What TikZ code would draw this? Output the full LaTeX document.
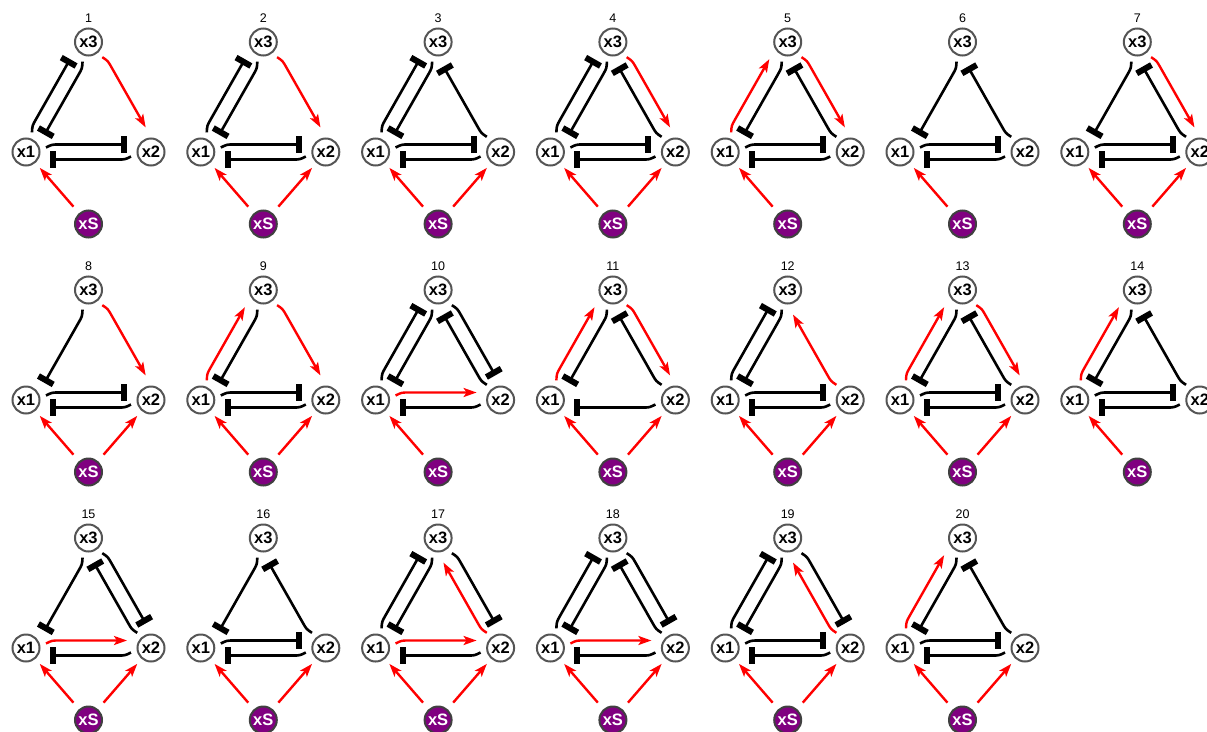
\documentclass[tikz,border=0pt]{standalone}
\usepackage{fontspec}
\setmainfont{Liberation Sans}
\usetikzlibrary{arrows.meta,calc,positioning}

\definecolor{nodegray}{HTML}{555555}
\definecolor{srcpurple}{HTML}{800080}

\tikzset{
  sp/.style={circle,draw=nodegray,line width=2pt,fill=white,minimum size=27pt,inner sep=0pt,
    font=\bfseries\fontsize{16.5}{17}\selectfont},
  src/.style={sp,fill=srcpurple,draw=black!75,text=white},
  lab/.style={font=\fontsize{12.5}{13}\selectfont,inner sep=0pt},
  inh/.style={-{Rectangle[length=6pt,width=17pt]},line width=2.6pt,black},
  act/.style={-{Stealth[length=13pt,width=9pt,inset=3pt]},line width=2.4pt,red},
}

\newcommand{\net}[5]{%
  \node[lab] (#1) at (#2,#3) {#4};
  \node[sp] (#1-x3) [below=24pt of #1] {x3};
  \node[sp] (#1-x1) [below left=110pt and 62.5pt of #1-x3] {x1};
  \node[sp] (#1-x2) [below right=110pt and 62.5pt of #1-x3] {x2};
  \node[src] (#1-xS) [below=182pt of #1-x3] {xS};
  \foreach \tgt in {#5} \draw[act] ($(#1-xS)!23pt!(#1-x\tgt)$) -- ($(#1-x\tgt)!21pt!(#1-xS)$);
}

\newcommand{\lnk}[4]{%
  \draw[#1] ($($(#2-x#3)!20pt!(#2-x#4)$)!4.5pt!90:(#2-x#4)$)
    .. controls ($($(#2-x#3)!26pt!(#2-x#4)$)!7.5pt!90:(#2-x#4)$)
    .. ($($(#2-x#3)!33pt!(#2-x#4)$)!7.5pt!90:(#2-x#4)$)
    -- ($($(#2-x#4)!24pt!(#2-x#3)$)!7.5pt!-90:(#2-x#3)$)}

\begin{document}
\begin{tikzpicture}[x=1pt,y=1pt,on grid]
  \useasboundingbox (0,0) rectangle (1207,-731);

  \net{p1}{88.5}{-18}{1}{1}
  \foreach \a/\b in {1/3,3/1,1/2,2/1} \lnk{inh}{p1}{\a}{\b};
  \lnk{act}{p1}{3}{2};

  \net{p2}{263.3}{-18}{2}{1,2}
  \foreach \a/\b in {1/3,3/1,1/2,2/1} \lnk{inh}{p2}{\a}{\b};
  \lnk{act}{p2}{3}{2};

  \net{p3}{438.1}{-18}{3}{1,2}
  \foreach \a/\b in {1/3,3/1,2/3,1/2,2/1} \lnk{inh}{p3}{\a}{\b};

  \net{p4}{612.9}{-18}{4}{1,2}
  \foreach \a/\b in {1/3,3/1,2/3,1/2,2/1} \lnk{inh}{p4}{\a}{\b};
  \lnk{act}{p4}{3}{2};

  \net{p5}{787.7}{-18}{5}{1}
  \foreach \a/\b in {3/1,2/3,1/2,2/1} \lnk{inh}{p5}{\a}{\b};
  \foreach \a/\b in {1/3,3/2} \lnk{act}{p5}{\a}{\b};

  \net{p6}{962.5}{-18}{6}{1}
  \foreach \a/\b in {3/1,2/3,1/2,2/1} \lnk{inh}{p6}{\a}{\b};

  \net{p7}{1137.3}{-18}{7}{1,2}
  \foreach \a/\b in {3/1,2/3,1/2,2/1} \lnk{inh}{p7}{\a}{\b};
  \lnk{act}{p7}{3}{2};

  \net{p8}{88.5}{-266}{8}{1,2}
  \foreach \a/\b in {3/1,1/2,2/1} \lnk{inh}{p8}{\a}{\b};
  \lnk{act}{p8}{3}{2};

  \net{p9}{263.3}{-266}{9}{1,2}
  \foreach \a/\b in {3/1,1/2,2/1} \lnk{inh}{p9}{\a}{\b};
  \foreach \a/\b in {1/3,3/2} \lnk{act}{p9}{\a}{\b};

  \net{p10}{438.1}{-266}{10}{1}
  \foreach \a/\b in {1/3,3/1,2/3,3/2,2/1} \lnk{inh}{p10}{\a}{\b};
  \lnk{act}{p10}{1}{2};

  \net{p11}{612.9}{-266}{11}{1,2}
  \foreach \a/\b in {3/1,2/3,2/1} \lnk{inh}{p11}{\a}{\b};
  \foreach \a/\b in {1/3,3/2} \lnk{act}{p11}{\a}{\b};

  \net{p12}{787.7}{-266}{12}{1,2}
  \foreach \a/\b in {1/3,3/1,1/2,2/1} \lnk{inh}{p12}{\a}{\b};
  \lnk{act}{p12}{2}{3};

  \net{p13}{962.5}{-266}{13}{1,2}
  \foreach \a/\b in {3/1,2/3,1/2,2/1} \lnk{inh}{p13}{\a}{\b};
  \foreach \a/\b in {1/3,3/2} \lnk{act}{p13}{\a}{\b};

  \net{p14}{1137.3}{-266}{14}{1}
  \foreach \a/\b in {3/1,2/3,1/2,2/1} \lnk{inh}{p14}{\a}{\b};
  \lnk{act}{p14}{1}{3};

  \net{p15}{88.5}{-514}{15}{1,2}
  \foreach \a/\b in {3/1,2/3,3/2,2/1} \lnk{inh}{p15}{\a}{\b};
  \lnk{act}{p15}{1}{2};

  \net{p16}{263.3}{-514}{16}{1,2}
  \foreach \a/\b in {3/1,2/3,1/2,2/1} \lnk{inh}{p16}{\a}{\b};

  \net{p17}{438.1}{-514}{17}{1,2}
  \foreach \a/\b in {1/3,3/1,3/2,2/1} \lnk{inh}{p17}{\a}{\b};
  \foreach \a/\b in {2/3,1/2} \lnk{act}{p17}{\a}{\b};

  \net{p18}{612.9}{-514}{18}{1,2}
  \foreach \a/\b in {1/3,3/1,2/3,3/2,2/1} \lnk{inh}{p18}{\a}{\b};
  \lnk{act}{p18}{1}{2};

  \net{p19}{787.7}{-514}{19}{1,2}
  \foreach \a/\b in {1/3,3/1,3/2,1/2,2/1} \lnk{inh}{p19}{\a}{\b};
  \lnk{act}{p19}{2}{3};

  \net{p20}{962.5}{-514}{20}{1,2}
  \foreach \a/\b in {3/1,2/3,1/2,2/1} \lnk{inh}{p20}{\a}{\b};
  \lnk{act}{p20}{1}{3};
\end{tikzpicture}
\end{document}
